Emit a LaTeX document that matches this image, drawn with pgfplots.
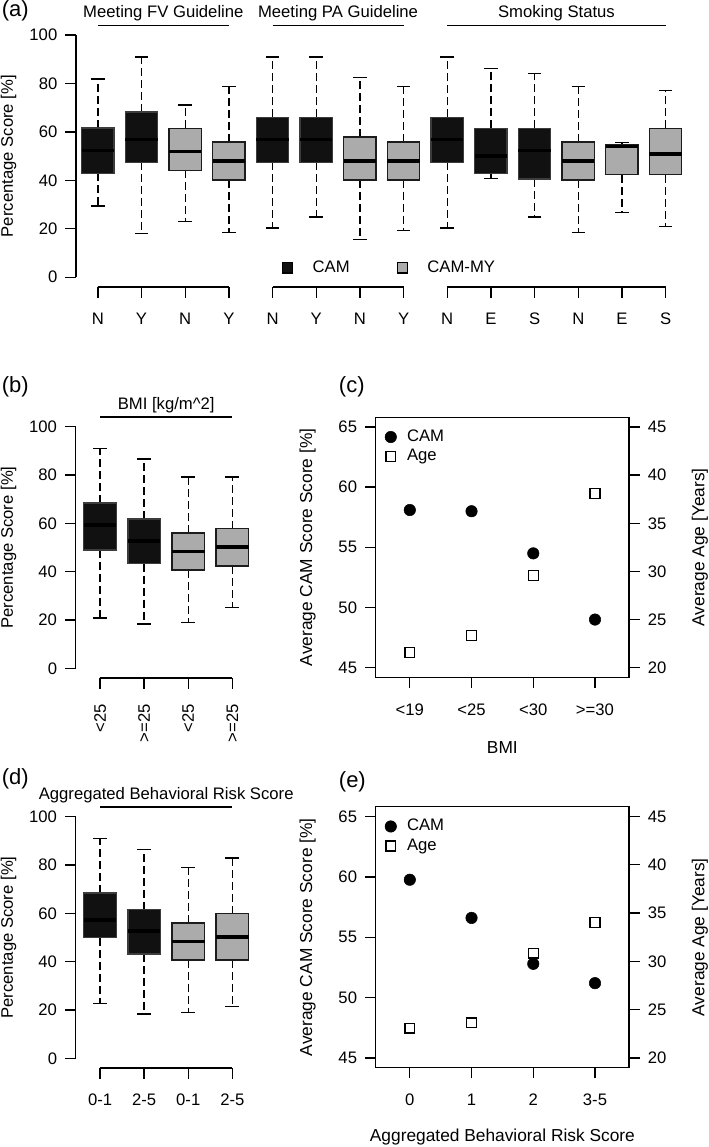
\documentclass[border=0pt]{standalone}
\usepackage{fontspec}
\setmainfont{Liberation Sans}
\usepackage{pgfplots}
\pgfplotsset{compat=1.18}
\definecolor{camfill}{HTML}{111111}
\definecolor{camedge}{HTML}{3C3C3C}
\definecolor{myfill}{HTML}{ABABAB}
\definecolor{myedge}{HTML}{1C1C1C}
\newcommand{\fa}{\fontsize{12.5}{14.5}\selectfont}
\newcommand{\fc}{\fontsize{13}{15}\selectfont}
\newcommand{\fl}{\fontsize{16.5}{19}\selectfont}
\pgfplotsset{
  rstyle/.style={scale only axis, clip=false, tick align=outside, major tick length=8pt,
    every tick/.style={black, line width=1pt},
    /pgf/number format/assume math mode=true,
    tick label style={font=\fa},
    xticklabel style={yshift=-8pt},
    legend image code/.code={\draw[mark repeat=2,mark phase=2,##1] plot coordinates {(0cm,0cm) (0.2cm,0cm) (0.4cm,0cm)};},
  },
  leftlab/.style={yticklabel style={xshift=-2.5pt}},
  rightlab/.style={yticklabel style={xshift=2.5pt}},
  bp/.style={axis lines*=left, x axis line style={draw=none},
    y axis line style={arrows=-, black, line width=1pt, shorten <=7.24pt, shorten >=7.24pt}},
  whisk/.style={forget plot, black, line width=1pt, mark=none},
  med/.style={forget plot, black, line width=2.7pt, mark=none},
  cam/.style={forget plot, fill=camfill, draw=camedge, line width=1pt, mark=none},
  cammy/.style={forget plot, fill=myfill, draw=myedge, line width=1pt, mark=none},
}
% #1 style, #2 position, #3 lower whisker, #4 lower quartile, #5 median, #6 upper quartile, #7 upper whisker
\newcommand{\bx}[7]{%
  \pgfmathsetmacro\bxl{#2-0.37}%
  \pgfmathsetmacro\bxr{#2+0.37}%
  \pgfmathsetmacro\bcl{#2-0.155}%
  \pgfmathsetmacro\bcr{#2+0.155}%
  \edef\bxdo{%
    \noexpand\addplot[whisk, dash pattern=on 6pt off 3pt] coordinates {(#2,#6) (#2,#7)};%
    \noexpand\addplot[whisk, dash pattern=on 6pt off 3pt] coordinates {(#2,#4) (#2,#3)};%
    \noexpand\addplot[whisk] coordinates {(\bcl,#7) (\bcr,#7)};%
    \noexpand\addplot[whisk] coordinates {(\bcl,#3) (\bcr,#3)};%
    \noexpand\addplot[#1] coordinates {(\bxl,#4) (\bxr,#4) (\bxr,#6) (\bxl,#6)} -- cycle;%
    \noexpand\addplot[med] coordinates {(\bxl,#5) (\bxr,#5)};%
  }\bxdo}
\begin{document}
\begin{tikzpicture}
\useasboundingbox (0,0) rectangle (531.75pt,-860.25pt);
\node[font=\fl, anchor=north west, inner sep=0pt] at (1.2pt,-0.5pt) {(a)};
\node[font=\fl, anchor=north west, inner sep=0pt] at (1.2pt,-282.5pt) {(b)};
\node[font=\fl, anchor=north west, inner sep=0pt] at (254pt,-282.5pt) {(c)};
\node[font=\fl, anchor=north west, inner sep=0pt] at (1.2pt,-576.2pt) {(d)};
\node[font=\fl, anchor=north west, inner sep=0pt] at (254pt,-578.8pt) {(e)};

% ---------------- (a)
\begin{axis}[rstyle, bp, leftlab, at={(57pt,-215.2pt)}, anchor=south west,
  width=458.6pt, height=196.2pt,
  xmin=0.5, xmax=14.5, ymin=-4, ymax=104,
  xtick={1,...,14}, xticklabels={N,Y,N,Y,N,Y,N,Y,N,E,S,N,E,S},
  ytick={0,20,...,100},
  ylabel={Percentage Score [\%]},
  ylabel style={font=\fa, at={(axis description cs:-0.1104,0.5)}, anchor=center},
  legend style={at={(axis cs:5.22,3.85)}, anchor=west, draw=none, fill=none, inner sep=0pt,
    legend columns=2, font=\fa, nodes={inner sep=1.6pt, text height=9pt, text depth=2.5pt},
    /tikz/every odd column/.append style={column sep=13.5pt},
    /tikz/every even column/.append style={column sep=34pt}},
  legend cell align=left]
\bx{cam}{1}{29.4}{42.9}{52.3}{61.6}{81.8}
\bx{cam}{2}{18.1}{47.4}{56.9}{68.2}{90.9}
\bx{cammy}{3}{23.0}{44.1}{51.9}{61.5}{71.1}
\bx{cammy}{4}{18.6}{40.2}{48.1}{55.8}{78.7}
\bx{cam}{5}{20.3}{47.4}{56.9}{66.0}{90.9}
\bx{cam}{6}{24.9}{47.4}{56.9}{66.0}{90.9}
\bx{cammy}{7}{15.5}{40.2}{48.1}{57.9}{82.6}
\bx{cammy}{8}{19.2}{40.2}{48.1}{55.8}{78.7}
\bx{cam}{9}{20.3}{47.4}{56.9}{66.0}{90.9}
\bx{cam}{10}{40.7}{42.9}{50.0}{61.5}{86.3}
\bx{cam}{11}{24.9}{40.6}{52.3}{61.5}{84.0}
\bx{cammy}{12}{18.6}{40.2}{48.1}{55.8}{78.7}
\bx{cammy}{13}{26.8}{42.3}{53.9}{54.6}{55.7}
\bx{cammy}{14}{21.0}{42.3}{51.0}{61.5}{77.1}
\addlegendimage{only marks, mark=square*, mark size=3.8pt, mark options={fill=camfill, draw=black, line width=0.8pt}}
\addlegendentry{CAM}
\addlegendimage{only marks, mark=square*, mark size=3.8pt, mark options={fill=myfill, draw=black, line width=0.8pt}}
\addlegendentry{CAM-MY}
\draw[line width=1pt] (axis cs:1,-4) -- (axis cs:4,-4);
\draw[line width=1pt] (axis cs:5,-4) -- (axis cs:8,-4);
\draw[line width=1pt] (axis cs:9,-4) -- (axis cs:14,-4);
\draw[line width=1pt] (axis cs:1,104) -- (axis cs:4,104);
\draw[line width=1pt] (axis cs:5,104) -- (axis cs:8,104);
\draw[line width=1pt] (axis cs:9,104) -- (axis cs:14,104);
\node[font=\fa, anchor=base, yshift=5.8pt] at (axis cs:2.5,104) {Meeting FV Guideline};
\node[font=\fa, anchor=base, yshift=5.8pt] at (axis cs:6.5,104) {Meeting PA Guideline};
\node[font=\fa, anchor=base, yshift=5.8pt] at (axis cs:11.5,104) {Smoking Status};
\end{axis}

% ---------------- (b)
\begin{axis}[rstyle, bp, leftlab, at={(56.8pt,-508.5pt)}, anchor=south west,
  width=135.7pt, height=195.7pt,
  xmin=0.448, xmax=4.552, ymin=-4, ymax=104,
  xtick={1,2,3,4}, xticklabels={{<25},{>=25},{<25},{>=25}},
  xticklabel style={rotate=90, anchor=east, yshift=0pt},
  ytick={0,20,...,100},
  ylabel={Percentage Score [\%]},
  ylabel style={font=\fa, at={(axis description cs:-0.3715,0.5)}, anchor=center}]
\bx{cam}{1}{20.8}{49.0}{59.3}{68.4}{91.1}
\bx{cam}{2}{18.3}{43.3}{52.6}{61.8}{86.6}
\bx{cammy}{3}{18.9}{40.7}{48.4}{56.0}{79.2}
\bx{cammy}{4}{25.2}{42.3}{50.3}{57.8}{79.2}
\draw[line width=1pt] (axis cs:1,-4) -- (axis cs:4,-4);
\draw[line width=1pt] (axis cs:1,104) -- (axis cs:4,104);
\node[font=\fa, anchor=base, yshift=5.8pt] at (axis cs:2.5,104) {BMI [kg/m\textasciicircum 2]};
\end{axis}

% ---------------- (c)
\begin{axis}[rstyle, leftlab, at={(281.8pt,-508pt)}, anchor=south west,
  width=190pt, height=195pt,
  xmin=0.448, xmax=4.552, ymin=44.2, ymax=65.8,
  axis line style={line width=1pt},
  xtick={1,2,3,4}, xticklabels={{<19},{<25},{<30},{>=30}},
  ytick={45,50,...,65}, xtick pos=bottom, ytick pos=left,
  xlabel={BMI}, xlabel style={font=\fc, at={(axis description cs:0.5,-0.271)}, anchor=center},
  ylabel={Average CAM Score Score [\%]},
  ylabel style={font=\fc, at={(axis description cs:-0.269,0.5)}, anchor=center},
  legend style={at={(axis description cs:0.0357,0.963)}, anchor=north west, draw=none, fill=none, inner sep=0pt,
    font=\fa, nodes={inner sep=1.6pt, text height=9pt, text depth=2.5pt},
    /tikz/every odd column/.append style={column sep=6.3pt}},
  legend cell align=left]
\addplot[only marks, mark=*, mark size=4.3pt, black] coordinates {(1,58.1) (2,58.0) (3,54.5) (4,49.0)};
\addlegendentry{CAM}
\addlegendimage{only marks, mark=square, mark size=3.7pt, black, mark options={line width=1pt}}
\addlegendentry{Age}
\end{axis}
\begin{axis}[rstyle, rightlab, at={(281.8pt,-508pt)}, anchor=south west,
  width=190pt, height=195pt,
  xmin=0.448, xmax=4.552, ymin=19, ymax=46,
  axis x line=none, axis y line*=right, axis line style={line width=1pt},
  ytick={20,25,...,45}, ytick pos=right, yticklabel pos=right,
  ylabel={Average Age [Years]},
  ylabel style={font=\fc, at={(axis description cs:1.280,0.5)}, anchor=center}]
\addplot[only marks, mark=square, mark size=3.7pt, black, mark options={line width=1pt}] coordinates {(1,21.56) (2,23.36) (3,29.6) (4,38.1)};
\end{axis}

% ---------------- (d)
\begin{axis}[rstyle, bp, leftlab, at={(56.8pt,-801pt)}, anchor=south west,
  width=135.7pt, height=195.7pt,
  xmin=0.448, xmax=4.552, ymin=-4, ymax=104,
  xtick={1,2,3,4}, xticklabels={0-1,2-5,0-1,2-5},
  ytick={0,20,...,100},
  ylabel={Percentage Score [\%]},
  ylabel style={font=\fa, at={(axis description cs:-0.3715,0.5)}, anchor=center}]
\bx{cam}{1}{22.8}{49.9}{57.2}{68.5}{91.1}
\bx{cam}{2}{18.3}{43.2}{52.6}{61.6}{86.5}
\bx{cammy}{3}{18.9}{40.7}{48.3}{56.0}{78.9}
\bx{cammy}{4}{21.4}{40.7}{50.2}{59.9}{82.9}
\draw[line width=1pt] (axis cs:1,-4) -- (axis cs:4,-4);
\draw[line width=1pt] (axis cs:1,104) -- (axis cs:4,104);
\node[font=\fa, anchor=base, yshift=5.8pt] at (axis cs:2.5,104) {Aggregated Behavioral Risk Score};
\end{axis}

% ---------------- (e)
\begin{axis}[rstyle, leftlab, at={(281.8pt,-800.8pt)}, anchor=south west,
  width=190pt, height=195.75pt,
  xmin=0.448, xmax=4.552, ymin=44.2, ymax=65.8,
  axis line style={line width=1pt},
  xtick={1,2,3,4}, xticklabels={0,1,2,3-5},
  ytick={45,50,...,65}, xtick pos=bottom, ytick pos=left,
  xlabel={Aggregated Behavioral Risk Score}, xlabel style={font=\fc, at={(axis description cs:0.5,-0.264)}, anchor=center},
  ylabel={Average CAM Score Score [\%]},
  ylabel style={font=\fc, at={(axis description cs:-0.269,0.5)}, anchor=center},
  legend style={at={(axis description cs:0.0357,0.963)}, anchor=north west, draw=none, fill=none, inner sep=0pt,
    font=\fa, nodes={inner sep=1.6pt, text height=9pt, text depth=2.5pt},
    /tikz/every odd column/.append style={column sep=6.3pt}},
  legend cell align=left]
\addplot[only marks, mark=*, mark size=4.3pt, black] coordinates {(1,59.76) (2,56.6) (3,52.8) (4,51.2)};
\addlegendentry{CAM}
\addlegendimage{only marks, mark=square, mark size=3.7pt, black, mark options={line width=1pt}}
\addlegendentry{Age}
\end{axis}
\begin{axis}[rstyle, rightlab, at={(281.8pt,-800.8pt)}, anchor=south west,
  width=190pt, height=195.75pt,
  xmin=0.448, xmax=4.552, ymin=19, ymax=46,
  axis x line=none, axis y line*=right, axis line style={line width=1pt},
  ytick={20,25,...,45}, ytick pos=right, yticklabel pos=right,
  ylabel={Average Age [Years]},
  ylabel style={font=\fc, at={(axis description cs:1.280,0.5)}, anchor=center}]
\addplot[only marks, mark=square, mark size=3.7pt, black, mark options={line width=1pt}] coordinates {(1,23.1) (2,23.65) (3,30.86) (4,34.03)};
\end{axis}

% y axis lines (0 to 100) of the box-plot panels
\draw[black, line width=1pt] (57pt,-207.93pt) -- (57pt,-26.27pt);
\draw[black, line width=1pt] (56.8pt,-501.25pt) -- (56.8pt,-320.05pt);
\draw[black, line width=1pt] (56.8pt,-793.75pt) -- (56.8pt,-612.55pt);
\end{tikzpicture}
\end{document}
